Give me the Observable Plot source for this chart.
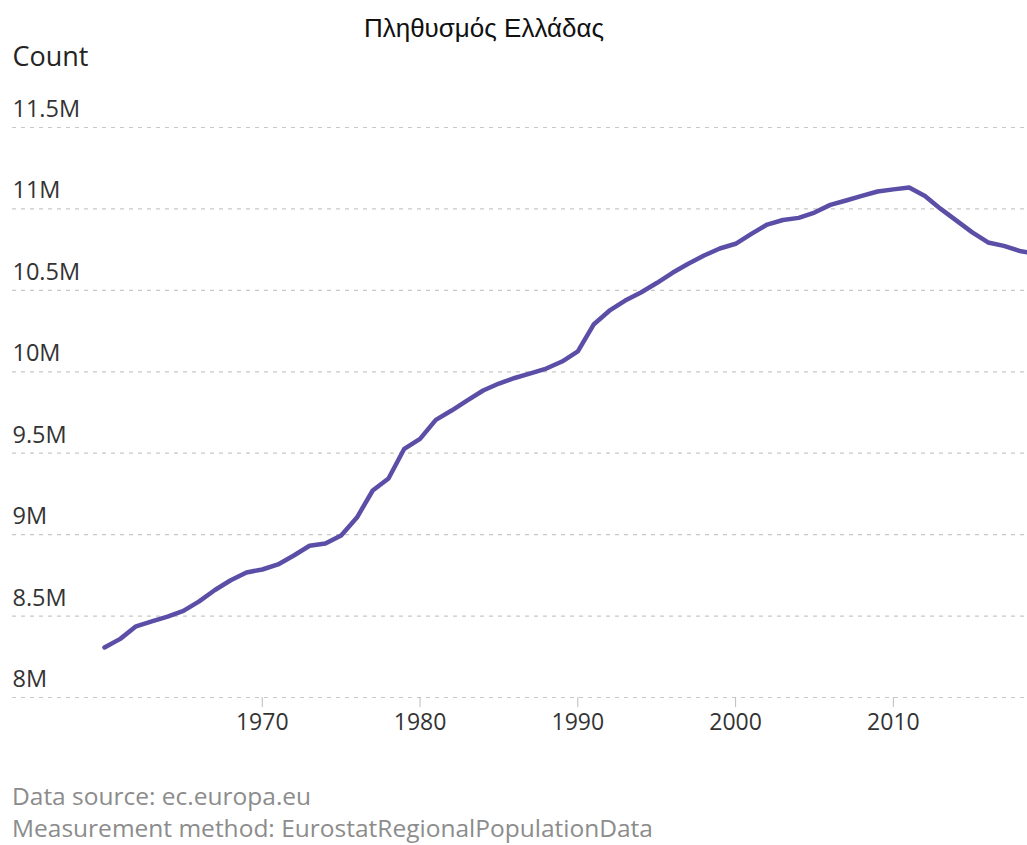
<!DOCTYPE html>
<html>
<head>
<meta charset="utf-8">
<script src="https://cdn.jsdelivr.net/npm/d3@7"></script>
<script src="https://cdn.jsdelivr.net/npm/@observablehq/plot@0.6"></script>
<style>
  body { margin: 0; background: #fff; width: 1027px; height: 845px; overflow: hidden; font-family: "Open Sans", sans-serif; position: relative; }
  #title { position: absolute; left: 0; top: 13px; width: 968px; text-align: center; font-family: "Liberation Sans", Arial, sans-serif; font-size: 26px; color: #111; line-height: 30px; }
  #chart { position: absolute; left: 0; top: 45px; }
  .cap { position: absolute; left: 12px; font-size: 24.5px; color: #8c8c8c; line-height: 28px; white-space: nowrap; }
</style>
</head>
<body>
<div id="title">Πληθυσμός Ελλάδας</div>
<div id="chart"></div>
<div class="cap" style="top:782px">Data source: ec.europa.eu</div>
<div class="cap" style="top:814px">Measurement method: EurostatRegionalPopulationData</div>
<script>
const years = [1960,1961,1962,1963,1964,1965,1966,1967,1968,1969,
  1970,1971,1972,1973,1974,1975,1976,1977,1978,1979,
  1980,1981,1982,1983,1984,1985,1986,1987,1988,1989,
  1990,1991,1992,1993,1994,1995,1996,1997,1998,1999,
  2000,2001,2002,2003,2004,2005,2006,2007,2008,2009,
  2010,2011,2012,2013,2014,2015,2016,2017,2018,2019];
// population in millions
const population = [8.307,8.360,8.437,8.467,8.497,8.532,8.590,8.660,8.720,8.768,
  8.786,8.817,8.872,8.932,8.945,8.995,9.105,9.271,9.345,9.527,
  9.588,9.705,9.762,9.824,9.885,9.928,9.962,9.990,10.020,10.063,
  10.125,10.290,10.375,10.437,10.487,10.545,10.608,10.663,10.714,10.757,
  10.786,10.847,10.904,10.932,10.945,10.978,11.025,11.052,11.080,11.107,
  11.120,11.132,11.080,11.000,10.928,10.856,10.794,10.773,10.742,10.725];
const yTicks = [8, 8.5, 9, 9.5, 10, 10.5, 11, 11.5];
const yTickLabels = ["8M","8.5M","9M","9.5M","10M","10.5M","11M","11.5M"];
const xTicks = [1970, 1980, 1990, 2000, 2010];
const xTickLabels = ["1970","1980","1990","2000","2010"];
const yAxisLabel = "Count";

const data = years.map((year, i) => ({year, pop: population[i]}));

const chart = Plot.plot({
  width: 1027,
  height: 710,
  marginLeft: 12,
  marginRight: 0,
  marginTop: 82,
  marginBottom: 58,
  x: {domain: [1954.17, 2018.5], axis: null},
  y: {domain: [8, 11.5], axis: null},
  style: {fontFamily: "'Open Sans', sans-serif", background: "white", overflow: "visible"},
  marks: [
    Plot.ruleY(yTicks, {y: d => d, stroke: "#c8c8c8", strokeWidth: 1.2, strokeDasharray: "4,5"}),
    Plot.axisY(yTicks, {anchor: "left", tickSize: 0, tickPadding: 0, textAnchor: "start", dy: -18,
      fontSize: 23.5, color: "#333", label: null,
      tickFormat: d => yTickLabels[yTicks.indexOf(d)]}),
    Plot.axisX(xTicks, {anchor: "bottom", tickSize: 10, color: "#bdbdbd", label: null, tickFormat: () => ""}),
    Plot.axisX(xTicks, {anchor: "bottom", tickSize: 0, tickPadding: 16, fontSize: 23, color: "#333", label: null,
      tickFormat: d => xTickLabels[xTicks.indexOf(d)]}),
    Plot.text([yAxisLabel], {frameAnchor: "top-left", textAnchor: "start", dy: -81, fontSize: 27, fill: "#252423"}),
    Plot.line(data, {x: "year", y: "pop", stroke: "#5b4ea6", strokeWidth: 4.5, strokeLinejoin: "round", clip: true})
  ]
});
document.getElementById("chart").appendChild(chart);
</script>
</body>
</html>
